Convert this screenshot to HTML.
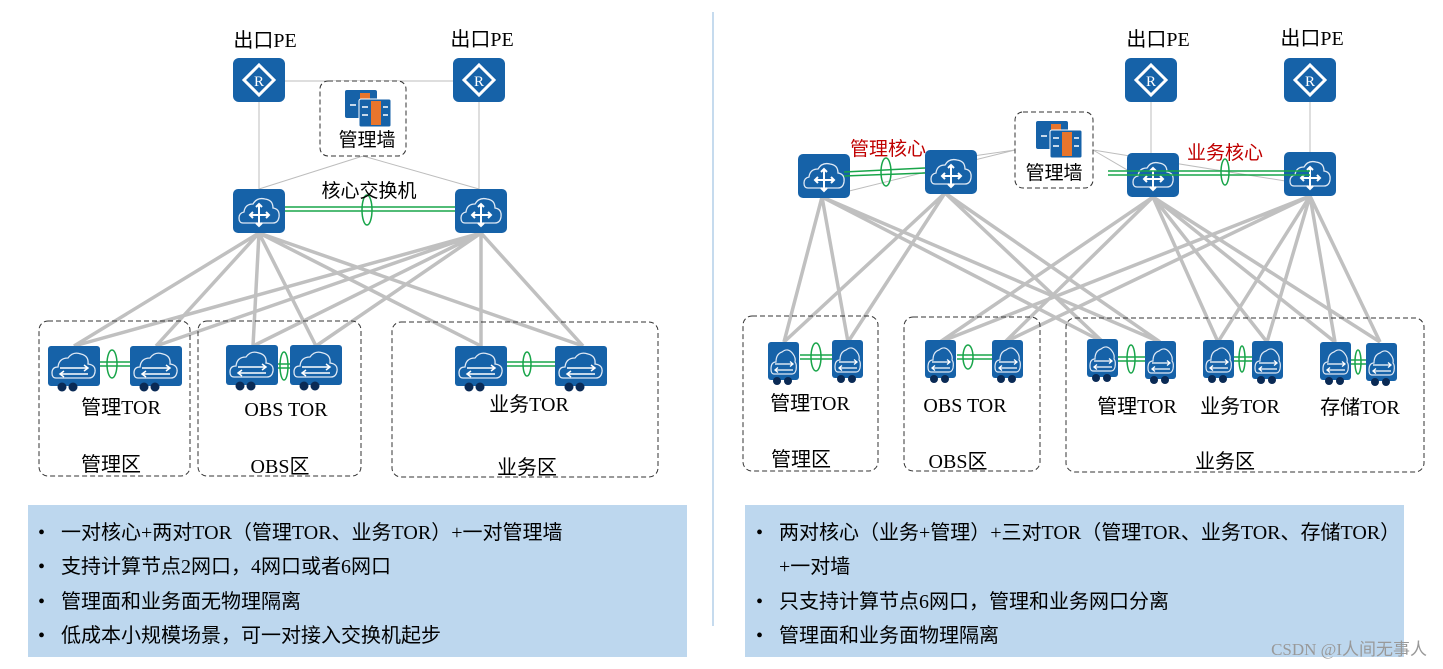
<!DOCTYPE html>
<html><head><meta charset="utf-8"><style>
html,body{margin:0;padding:0;background:#fff;width:1443px;height:669px;overflow:hidden}
svg text{font-family:"Liberation Serif","Noto Sans CJK SC",serif}
</style></head><body>
<svg width="1443" height="669" viewBox="0 0 1443 669" xmlns="http://www.w3.org/2000/svg">
<defs>
<g id="rt"><rect x="0" y="0" width="52" height="44" rx="6" fill="#1662a8"/><path d="M26 7 L41 22 L26 37 L11 22 Z" fill="none" stroke="#fff" stroke-width="3"/><text x="26" y="28" font-size="15" fill="#fff" text-anchor="middle" font-family="Liberation Sans">R</text></g>
<g id="core"><rect x="0" y="0" width="52" height="44" rx="5" fill="#1662a8"/><path d="M10 34 Q6 34 6 29 Q6 24 11 23 Q12 15 20 15 Q24 8 32 10 Q40 11 40 19 Q47 20 46 28 Q45 34 40 34 Z" fill="none" stroke="#dfe9f5" stroke-width="1.3"/><path d="M26 15 V37 M17 26 H36 M23 18 L26 15 L29 18 M23 34 L26 37 L29 34 M33 23 L36 26 L33 29 M20 23 L17 26 L20 29" fill="none" stroke="#fff" stroke-width="2"/></g>
<g id="tor"><rect x="0" y="0" width="52" height="40" rx="3" fill="#1662a8"/><circle cx="14" cy="41" r="4.5" fill="#0a2a55"/><circle cx="25" cy="41" r="4.5" fill="#0a2a55"/><path d="M8 32 Q4 32 4 27 Q4 21 10 21 Q11 12 20 12 Q25 5 33 8 Q41 10 40 18 Q48 19 47 26 Q46 32 41 32 Z" fill="none" stroke="#dfe9f5" stroke-width="1.3"/><path d="M12 22 H40 M36 19 L40 22 L36 25 M12 28 H40 M16 25 L12 28 L16 31" fill="none" stroke="#fff" stroke-width="1.5"/></g>
<g id="tors"><rect x="0" y="0" width="31" height="38" rx="3" fill="#1662a8"/><circle cx="9" cy="39" r="4" fill="#0a2a55"/><circle cx="20" cy="39" r="4" fill="#0a2a55"/><path d="M6 32 Q3 32 3 27 Q3 20 8 20 Q8 12 14 10 Q20 5 25 12 Q28 16 27 20 Q29 22 28 28 Q27 32 24 32 Z" fill="none" stroke="#dfe9f5" stroke-width="1.2"/><path d="M7 22 H25 M22 19.5 L25 22 L22 24.5 M7 28 H25 M10 25.5 L7 28 L10 30.5" fill="none" stroke="#fff" stroke-width="1.3"/></g>
<g id="fw"><rect x="0" y="0" width="32" height="28" rx="2" fill="#1662a8"/><rect x="15" y="3" width="10" height="22" fill="#e8752c"/><rect x="14" y="9" width="32" height="28" rx="2" fill="#1662a8" stroke="#fff" stroke-width="1"/><rect x="26" y="11" width="10" height="24" fill="#e8752c"/><path d="M5 15 H11 M17 17 H23 M17 25 H23 M38 17 H43 M38 25 H43" stroke="#fff" stroke-width="1.5"/></g>
</defs>

<line x1="713" y1="12" x2="713" y2="626" stroke="#8db7de" stroke-width="1"/>

<!-- LEFT -->
<g stroke="#bdbdbd" stroke-width="1" fill="none">
<line x1="259" y1="102" x2="259" y2="189"/><line x1="479" y1="102" x2="479" y2="189"/>
<line x1="285" y1="81" x2="453" y2="81"/>
<line x1="363" y1="156" x2="259" y2="189"/><line x1="363" y1="156" x2="479" y2="189"/>
</g>
<g stroke="#c0c0c0" stroke-width="3.5" fill="none">
<path d="M259 233 L74 346 M259 233 L156 346 M259 233 L253 346 M259 233 L316 346 M259 233 L481 346 M259 233 L583 346"/>
<path d="M481 233 L74 346 M481 233 L156 346 M481 233 L253 346 M481 233 L316 346 M481 233 L481 346 M481 233 L583 346"/>
</g>
<g stroke="#19a54a" stroke-width="1.5" fill="none">
<line x1="285" y1="207" x2="455" y2="207"/><line x1="285" y1="211" x2="455" y2="211"/>
<ellipse cx="367" cy="210" rx="5" ry="15"/>
<line x1="100" y1="362" x2="130" y2="362"/><line x1="100" y1="366" x2="130" y2="366"/><ellipse cx="112" cy="364" rx="5" ry="14"/>
<line x1="278" y1="364" x2="290" y2="364"/><line x1="278" y1="368" x2="290" y2="368"/><ellipse cx="284" cy="366" rx="4" ry="14"/>
<line x1="507" y1="362" x2="555" y2="362"/><line x1="507" y1="366" x2="555" y2="366"/><ellipse cx="527" cy="364" rx="4" ry="12"/>
</g>
<use href="#rt" x="233" y="58"/><use href="#rt" x="453" y="58"/>
<use href="#core" x="233" y="189"/><use href="#core" x="455" y="189"/>
<rect x="320" y="81" width="86" height="75" rx="8" fill="#fff" stroke="#333" stroke-dasharray="5,3"/>
<use href="#fw" x="345" y="90"/>
<text x="265" y="47" font-size="20" text-anchor="middle">出口PE</text>
<text x="482" y="46" font-size="20" text-anchor="middle">出口PE</text>
<text x="367" y="146" font-size="19" text-anchor="middle">管理墙</text>
<text x="369" y="197" font-size="19" text-anchor="middle">核心交换机</text>
<g fill="none" stroke="#333" stroke-dasharray="5,3">
<rect x="39" y="321" width="151" height="155" rx="9"/><rect x="198" y="321" width="163" height="155" rx="9"/><rect x="392" y="322" width="266" height="155" rx="9"/>
</g>
<use href="#tor" x="48" y="346"/><use href="#tor" x="130" y="346"/><use href="#tor" x="226" y="345"/><use href="#tor" x="290" y="345"/><use href="#tor" x="455" y="346"/><use href="#tor" x="555" y="346"/>
<g font-size="20" text-anchor="middle">
<text x="121" y="414">管理TOR</text>
<text x="286" y="416">OBS TOR</text>
<text x="529" y="411">业务TOR</text>
<text x="111" y="471">管理区</text>
<text x="280" y="473">OBS区</text>
<text x="527" y="474">业务区</text>
</g>

<!-- RIGHT -->
<g stroke="#bdbdbd" stroke-width="1" fill="none">
<line x1="1151" y1="102" x2="1151" y2="153"/><line x1="1310" y1="102" x2="1310" y2="153"/>
<line x1="1015" y1="150" x2="825" y2="197"/><line x1="1015" y1="150" x2="945" y2="160"/>
<line x1="1093" y1="150" x2="1153" y2="185"/><line x1="1093" y1="150" x2="1310" y2="185"/>
</g>
<g stroke="#c0c0c0" stroke-width="3.5" fill="none">
<path d="M822 197 L784 342 M822 197 L848 342 M822 197 L1103 342 M822 197 L1160 342"/>
<path d="M945 193 L784 342 M945 193 L848 342 M945 193 L1103 342 M945 193 L1160 342"/>
<path d="M1153 197 L940 342 M1153 197 L1005 342 M1153 197 L1218 342 M1153 197 L1267 342 M1153 197 L1335 342 M1153 197 L1380 342"/>
<path d="M1310 196 L940 342 M1310 196 L1005 342 M1310 196 L1218 342 M1310 196 L1267 342 M1310 196 L1335 342 M1310 196 L1380 342"/>
</g>
<use href="#rt" x="1125" y="58"/><use href="#rt" x="1284" y="58"/>
<use href="#core" x="798" y="154"/><use href="#core" x="925" y="150"/><use href="#core" x="1127" y="153"/><use href="#core" x="1284" y="152"/>
<g stroke="#19a54a" stroke-width="1.5" fill="none">
<line x1="844" y1="172" x2="925" y2="168"/><line x1="844" y1="176" x2="925" y2="173"/><ellipse cx="886" cy="172" rx="5" ry="14"/>
<line x1="1108" y1="171" x2="1310" y2="171"/><line x1="1108" y1="175" x2="1310" y2="175"/><ellipse cx="1225" cy="172" rx="4" ry="13"/>
<line x1="800" y1="355" x2="832" y2="355"/><line x1="800" y1="359" x2="832" y2="359"/><ellipse cx="816" cy="357" rx="5" ry="14"/>
<line x1="957" y1="355" x2="992" y2="355"/><line x1="957" y1="359" x2="992" y2="359"/><ellipse cx="968" cy="357" rx="5" ry="12"/>
<line x1="1117" y1="357" x2="1145" y2="357"/><line x1="1117" y1="361" x2="1145" y2="361"/><ellipse cx="1131" cy="359" rx="4" ry="14"/>
<line x1="1233" y1="357" x2="1252" y2="357"/><line x1="1233" y1="361" x2="1252" y2="361"/><ellipse cx="1242" cy="359" rx="3" ry="13"/>
<line x1="1350" y1="360" x2="1366" y2="360"/><line x1="1350" y1="364" x2="1366" y2="364"/><ellipse cx="1358" cy="362" rx="3" ry="12"/>
</g>
<rect x="1015" y="112" width="78" height="76" rx="8" fill="#fff" stroke="#333" stroke-dasharray="5,3"/>
<use href="#fw" x="1036" y="121"/>
<text x="1054" y="179" font-size="19" text-anchor="middle">管理墙</text>
<text x="888" y="155" font-size="19" fill="#c00000" text-anchor="middle">管理核心</text>
<text x="1225" y="159" font-size="19" fill="#c00000" text-anchor="middle">业务核心</text>
<text x="1158" y="46" font-size="20" text-anchor="middle">出口PE</text>
<text x="1312" y="45" font-size="20" text-anchor="middle">出口PE</text>
<g fill="none" stroke="#333" stroke-dasharray="5,3">
<rect x="743" y="316" width="135" height="155" rx="9"/><rect x="904" y="317" width="136" height="154" rx="9"/><rect x="1066" y="318" width="358" height="154" rx="9"/>
</g>
<use href="#tors" x="768" y="342"/><use href="#tors" x="832" y="340"/><use href="#tors" x="925" y="340"/><use href="#tors" x="992" y="340"/>
<use href="#tors" x="1087" y="339"/><use href="#tors" x="1145" y="341"/><use href="#tors" x="1203" y="340"/><use href="#tors" x="1252" y="341"/><use href="#tors" x="1320" y="342"/><use href="#tors" x="1366" y="343"/>
<g font-size="20" text-anchor="middle">
<text x="810" y="410">管理TOR</text>
<text x="965" y="412">OBS TOR</text>
<text x="1137" y="413">管理TOR</text>
<text x="1240" y="413">业务TOR</text>
<text x="1360" y="414">存储TOR</text>
<text x="801" y="466">管理区</text>
<text x="958" y="468">OBS区</text>
<text x="1225" y="468">业务区</text>
</g>

<rect x="28" y="505" width="659" height="152" fill="#bdd7ee"/>
<rect x="745" y="505" width="659" height="152" fill="#bdd7ee"/>
<g font-size="20">
<text x="38" y="539">•</text><text x="61" y="539">一对核心+两对TOR（管理TOR、业务TOR）+一对管理墙</text>
<text x="38" y="573">•</text><text x="61" y="573">支持计算节点2网口，4网口或者6网口</text>
<text x="38" y="608">•</text><text x="61" y="608">管理面和业务面无物理隔离</text>
<text x="38" y="642">•</text><text x="61" y="642">低成本小规模场景，可一对接入交换机起步</text>
<text x="756" y="539">•</text><text x="779" y="539">两对核心（业务+管理）+三对TOR（管理TOR、业务TOR、存储TOR）</text>
<text x="779" y="573">+一对墙</text>
<text x="756" y="608">•</text><text x="779" y="608">只支持计算节点6网口，管理和业务网口分离</text>
<text x="756" y="642">•</text><text x="779" y="642">管理面和业务面物理隔离</text>
</g>
<text x="1427" y="655" font-size="17" fill="#999" text-anchor="end" font-family="Liberation Sans,Noto Sans CJK SC,sans-serif">CSDN @I人间无事人</text>
</svg>
</body></html>
